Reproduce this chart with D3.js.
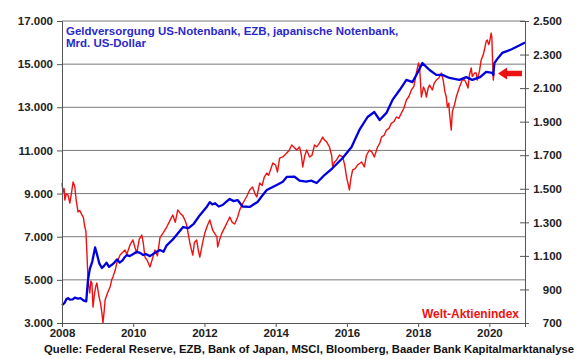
<!DOCTYPE html>
<html>
<head>
<meta charset="utf-8">
<script src="https://cdn.jsdelivr.net/npm/d3@7"></script>
<style>
  body { margin: 0; background: #fff; }
  svg { display: block; font-family: "Liberation Sans", Arial, sans-serif; }
</style>
</head>
<body>
<script>
// Geldmenge (Fed + EZB + BoJ), Mrd. US-Dollar – linke Achse
const blueYears = [2008.00, 2008.04, 2008.08, 2008.12, 2008.17, 2008.22, 2008.30, 2008.36, 2008.45, 2008.52,
  2008.60, 2008.68, 2008.73, 2008.78, 2008.85, 2008.93, 2008.98, 2009.05, 2009.12, 2009.18,
  2009.25, 2009.32, 2009.40, 2009.47, 2009.55, 2009.62, 2009.70, 2009.76, 2009.82, 2009.90,
  2010.00, 2010.10, 2010.19, 2010.28, 2010.35, 2010.47, 2010.60, 2010.75, 2010.85, 2010.94,
  2011.10, 2011.25, 2011.40, 2011.55, 2011.70, 2011.87, 2012.05, 2012.15, 2012.22, 2012.30,
  2012.40, 2012.51, 2012.60, 2012.71, 2012.82, 2012.93, 2013.07, 2013.27, 2013.49, 2013.62,
  2013.75, 2014.03, 2014.20, 2014.31, 2014.53, 2014.67, 2014.85, 2015.00, 2015.15, 2015.37,
  2015.60, 2015.88, 2016.13, 2016.35, 2016.58, 2016.77, 2016.92, 2017.11, 2017.28, 2017.48,
  2017.67, 2017.84, 2017.98, 2018.12, 2018.32, 2018.51, 2018.68, 2018.88, 2019.16, 2019.35,
  2019.52, 2019.74, 2019.91, 2020.08, 2020.11, 2020.14, 2020.25, 2020.36, 2020.64, 2020.92, 2021.00];
const blueValues = [3830, 3880, 3950, 4100, 4150, 4080, 4100, 4180, 4130, 4150,
  4050, 4000, 5000, 5500, 5850, 6500, 6200, 5750, 5550, 5650,
  5800, 5600, 5700, 5800, 5950, 5800, 5900, 6050, 6150, 6100,
  6200, 6300, 6250, 6150, 6200, 6100, 6250, 6380, 6300, 6600,
  6850, 7150, 7450, 7400, 7600, 8000, 8350, 8600, 8500, 8550,
  8400, 8470, 8600, 8750, 8650, 8700, 8400, 8380, 8610, 8900,
  9165, 9400, 9550, 9770, 9780, 9600, 9550, 9600, 9490, 9860,
  10185, 10650, 11160, 11950, 12550, 12780, 12410, 12740, 13340, 13800,
  14270, 14170, 14590, 15050, 14730, 14500, 14500, 14360, 14270, 14400,
  14270, 14400, 14640, 14600, 14500, 15050, 15300, 15520, 15700, 15935, 16000];

// Welt-Aktienindex (MSCI) – rechte Achse
const redYears = [2008.00, 2008.03, 2008.06, 2008.08, 2008.12, 2008.17, 2008.22, 2008.27, 2008.31, 2008.34,
  2008.36, 2008.40, 2008.45, 2008.50, 2008.56, 2008.60, 2008.64, 2008.67, 2008.70, 2008.73,
  2008.78, 2008.81, 2008.84, 2008.87, 2008.91, 2008.95, 2008.98, 2009.04, 2009.08, 2009.12,
  2009.15, 2009.18, 2009.21, 2009.28, 2009.35, 2009.40, 2009.43, 2009.50, 2009.54, 2009.63,
  2009.70, 2009.77, 2009.82, 2009.91, 2009.99, 2010.05, 2010.10, 2010.17, 2010.24, 2010.28,
  2010.33, 2010.40, 2010.47, 2010.55, 2010.61, 2010.68, 2010.75, 2010.85, 2010.94, 2011.03,
  2011.11, 2011.18, 2011.25, 2011.31, 2011.39, 2011.45, 2011.50, 2011.59, 2011.63, 2011.67,
  2011.72, 2011.78, 2011.83, 2011.87, 2011.95, 2012.01, 2012.08, 2012.15, 2012.23, 2012.30,
  2012.35, 2012.37, 2012.43, 2012.49, 2012.57, 2012.63, 2012.71, 2012.78, 2012.85, 2012.93,
  2012.99, 2013.07, 2013.13, 2013.20, 2013.27, 2013.35, 2013.42, 2013.47, 2013.55, 2013.62,
  2013.68, 2013.75, 2013.80, 2013.92, 2014.00, 2014.05, 2014.11, 2014.20, 2014.31, 2014.38,
  2014.45, 2014.53, 2014.59, 2014.67, 2014.72, 2014.76, 2014.82, 2014.87, 2014.95, 2015.02,
  2015.09, 2015.15, 2015.23, 2015.32, 2015.37, 2015.43, 2015.51, 2015.57, 2015.60, 2015.65,
  2015.71, 2015.79, 2015.88, 2015.94, 2015.99, 2016.07, 2016.11, 2016.16, 2016.23, 2016.30,
  2016.41, 2016.49, 2016.55, 2016.63, 2016.70, 2016.77, 2016.86, 2016.92, 2016.97, 2017.05,
  2017.11, 2017.18, 2017.25, 2017.32, 2017.39, 2017.46, 2017.53, 2017.60, 2017.67, 2017.74,
  2017.81, 2017.88, 2017.95, 2018.01, 2018.04, 2018.09, 2018.15, 2018.20, 2018.23, 2018.28,
  2018.32, 2018.40, 2018.45, 2018.51, 2018.58, 2018.65, 2018.70, 2018.75, 2018.79, 2018.82,
  2018.86, 2018.88, 2018.93, 2018.96, 2019.02, 2019.07, 2019.16, 2019.24, 2019.30, 2019.35,
  2019.40, 2019.44, 2019.49, 2019.52, 2019.58, 2019.63, 2019.66, 2019.72, 2019.77, 2019.83,
  2019.86, 2019.91, 2019.94, 2019.98, 2020.00, 2020.05, 2020.07, 2020.09, 2020.11, 2020.13];
const redValues = [1534, 1480, 1500, 1433, 1470, 1463, 1415, 1480, 1540, 1525,
  1510, 1430, 1362, 1370, 1344, 1330, 1272, 1250, 1117, 956,
  879, 950, 938, 795, 870, 920, 938, 855, 820, 760,
  700, 760, 837, 880, 915, 960, 974, 1020, 1058, 1105,
  1120, 1135, 1110, 1165, 1195, 1150, 1117, 1200, 1224, 1180,
  1093, 1070, 1034, 1090, 1135, 1100, 1207, 1240, 1272, 1310,
  1344, 1300, 1374, 1356, 1340, 1314, 1284, 1177, 1140, 1105,
  1180, 1195, 1130, 1093, 1180, 1236, 1280, 1314, 1254, 1230,
  1213, 1153, 1200, 1236, 1270, 1296, 1332, 1300, 1290, 1330,
  1374, 1410, 1433, 1460, 1493, 1510, 1470, 1451, 1534, 1520,
  1570, 1594, 1580, 1654, 1640, 1600, 1683, 1690, 1713, 1730,
  1761, 1745, 1731, 1749, 1700, 1630, 1700, 1731, 1689, 1700,
  1761, 1750, 1772, 1808, 1790, 1780, 1749, 1700, 1630, 1660,
  1672, 1701, 1690, 1640, 1570, 1493, 1560, 1612, 1620, 1642,
  1660, 1630, 1700, 1731, 1720, 1689, 1749, 1770, 1808, 1820,
  1850, 1860, 1892, 1900, 1928, 1920, 1952, 1980, 2029, 2050,
  2089, 2110, 2190, 2250, 2226, 2047, 2107, 2080, 2047, 2100,
  2118, 2089, 2130, 2148, 2160, 2190, 2150, 2080, 2047, 1987,
  2010, 1950, 1850, 1960, 2000, 2047, 2107, 2148, 2150, 2130,
  2100, 2178, 2220, 2170, 2190, 2190, 2148, 2200, 2268, 2300,
  2327, 2380, 2387, 2360, 2370, 2428, 2400, 2260, 2148, 2190];

const yearTicks = [2008, 2010, 2012, 2014, 2016, 2018, 2020];
const leftTicks = [3000, 5000, 7000, 9000, 11000, 13000, 15000, 17000];
const rightTicks = [700, 900, 1100, 1300, 1500, 1700, 1900, 2100, 2300, 2500];

const W = 580, H = 359;
const L = 62, R = 525, T = 21, B = 323;

const de = d3.formatLocale({decimal: ",", thousands: ".", grouping: [3], currency: ["", " €"]});
const fmt = de.format(",d");

const svg = d3.select("body").append("svg")
    .attr("width", W)
    .attr("height", H);

const x = d3.scaleLinear().domain([2008, 2021]).range([L, R]);
const yL = d3.scaleLinear().domain([3000, 17000]).range([B, T]);
const yR = d3.scaleLinear().domain([700, 2500]).range([B, T]);

// gridlines
svg.append("g")
  .selectAll("line")
  .data(leftTicks.slice(1))
  .join("line")
    .attr("x1", L).attr("x2", R)
    .attr("y1", d => yL(d)).attr("y2", d => yL(d))
    .attr("stroke", "#7a7a7a")
    .attr("stroke-width", 1);

// lines
const blue = d3.zip(blueYears, blueValues);
const red = d3.zip(redYears, redValues);

svg.append("path")
    .datum(red)
    .attr("fill", "none")
    .attr("stroke", "#ee1111")
    .attr("stroke-width", 1.4)
    .attr("stroke-linejoin", "round")
    .attr("d", d3.line().x(d => x(d[0])).y(d => yR(d[1])));

svg.append("path")
    .datum(blue)
    .attr("fill", "none")
    .attr("stroke", "#0000dd")
    .attr("stroke-width", 2.3)
    .attr("stroke-linejoin", "round")
    .attr("d", d3.line().x(d => x(d[0])).y(d => yL(d[1])));

// axes
const tickText = g => g.selectAll("text")
    .attr("font-size", 11.5)
    .attr("font-weight", "bold")
    .attr("fill", "#222");

svg.append("g")
    .attr("transform", `translate(${L},0)`)
    .call(d3.axisLeft(yL).tickValues(leftTicks).tickFormat(fmt).tickSize(5).tickPadding(4))
    .call(g => g.select(".domain").attr("stroke", "#555"))
    .call(g => g.selectAll(".tick line").attr("stroke", "#555"))
    .call(tickText);

svg.append("g")
    .attr("transform", `translate(${R},0)`)
    .call(d3.axisRight(yR).tickValues(rightTicks).tickFormat(fmt).tickSize(4).tickPadding(0))
    .call(g => g.select(".domain").attr("stroke", "#555"))
    .call(g => g.selectAll(".tick line").attr("stroke", "#555").attr("x1", -5))
    .call(g => g.selectAll(".tick text").attr("text-anchor", "end").attr("x", 37))
    .call(tickText);

svg.append("g")
    .attr("transform", `translate(0,${B})`)
    .call(d3.axisBottom(x).tickValues(yearTicks).tickFormat(d3.format("d")).tickSize(4).tickPadding(2))
    .call(g => g.select(".domain").attr("stroke", "#555"))
    .call(g => g.selectAll(".tick line").attr("stroke", "#555"))
    .call(tickText);

// arrow
svg.append("path")
    .attr("d", "M498,73.5 L507,67.5 L507,70.8 L522,70.8 L522,76.2 L507,76.2 L507,79.5 Z")
    .attr("fill", "#ee1111");

// texts
svg.append("text")
    .attr("x", 66).attr("y", 35)
    .attr("font-size", 11.5).attr("font-weight", "bold")
    .attr("fill", "#2a2acc")
    .text("Geldversorgung US-Notenbank, EZB, japanische Notenbank,");
svg.append("text")
    .attr("x", 66).attr("y", 47)
    .attr("font-size", 11.5).attr("font-weight", "bold")
    .attr("fill", "#2a2acc")
    .text("Mrd. US-Dollar");

svg.append("text")
    .attr("x", 519).attr("y", 318)
    .attr("text-anchor", "end")
    .attr("font-size", 12).attr("font-weight", "bold")
    .attr("fill", "#ee1111")
    .text("Welt-Aktienindex");

svg.append("text")
    .attr("x", 44).attr("y", 353)
    .attr("font-size", 11).attr("font-weight", "bold")
    .attr("fill", "#111")
    .attr("textLength", 530)
    .attr("lengthAdjust", "spacingAndGlyphs")
    .text("Quelle: Federal Reserve, EZB, Bank of Japan, MSCI, Bloomberg, Baader Bank Kapitalmarktanalyse");
</script>
</body>
</html>
